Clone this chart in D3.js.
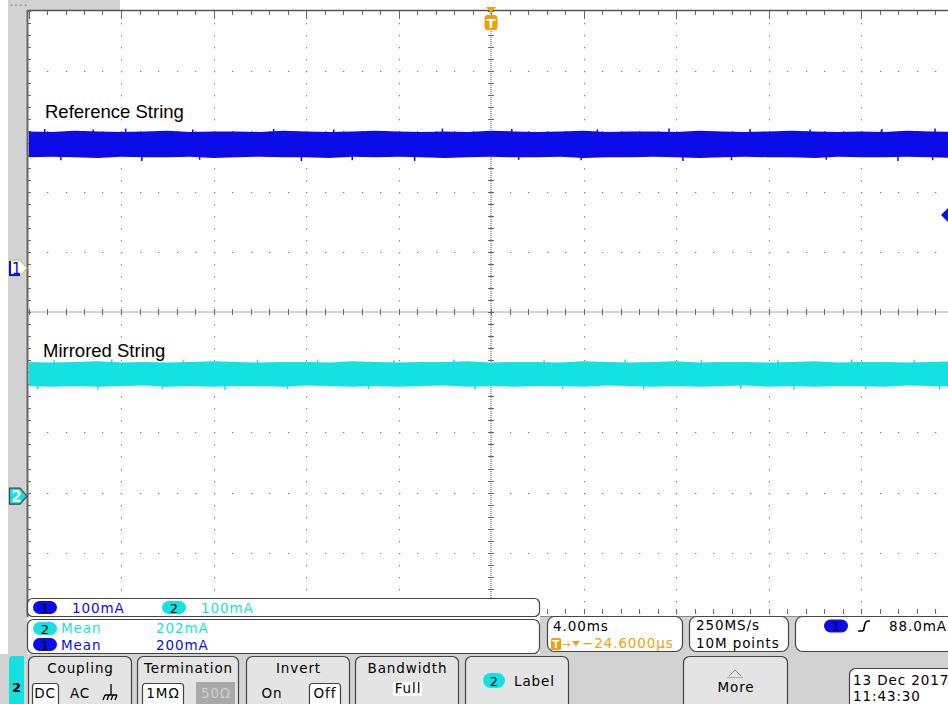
<!DOCTYPE html>
<html><head><meta charset="utf-8">
<script src="https://cdn.jsdelivr.net/npm/d3@7"></script>
<style>html,body{margin:0;padding:0;background:#fff;overflow:hidden}</style>
</head><body><svg id="c" width="948" height="704"></svg>
<script>
// ---------- DATA ----------
const sampleTimes = [-20,-19,-18,-17,-16,-15,-14,-13,-12,-11,-10,-9,-8,-7,-6,-5,-4,-3,-2,-1,0,1,2,3,4,5,6,7,8,9,10,11,12,13,14,15,16,17,18,19,20]; // ms
const ch1Max = [227,226,228,227,226,227,228,226,227,227,226,228,227,226,227,228,227,226,227,226,228,227,226,227,228,226,227,227,226,228,227,226,227,228,227,226,227,226,228,227,226]; // mA
const ch1Min = [184,185,184,183,185,184,184,185,183,184,185,184,184,183,185,184,185,184,183,184,185,184,184,185,183,184,184,185,184,183,184,185,184,184,183,185,184,184,185,184,183];
const ch2Max = [223,222,223,224,222,223,222,223,224,223,222,223,223,222,224,223,222,223,223,224,222,223,223,222,224,223,222,223,224,222,223,223,222,223,224,222,223,223,222,223,224];
const ch2Min = [183,182,183,182,183,184,182,183,182,183,183,182,184,183,182,183,182,183,184,182,183,182,183,183,182,184,183,182,183,182,183,184,182,183,182,183,183,182,184,183,182];
const ch1UpTimes = [-19.3,-17.2,-15.8,-12.9,-9.4,-6.8,-2.1,0.9,4.6,7.7,11.2,13.8,16.9,19.2];
const ch1UpVals  = [231,230,232,230,231,230,232,231,230,232,231,230,231,232];
const ch1DnTimes = [-18.6,-15.1,-12.6,-8.2,-6.0,-3.3,1.2,3.9,8.3,10.4,14.5,17.6,19.1];
const ch1DnVals  = [179,178,180,178,179,178,180,179,178,179,180,178,179];
const ch2UpTimes = [-18.9,-16.4,-13.3,-10.1,-7.5,-4.2,-1.6,2.3,5.8,9.1,12.4,15.6,18.3];
const ch2UpVals  = [226,227,226,226,227,226,227,226,227,226,226,227,226];
const ch2DnTimes = [-19.6,-17.0,-14.2,-11.5,-8.8,-5.3,-0.7,3.1,6.6,10.8,13.1,16.2,19.4];
const ch2DnVals  = [178,177,178,177,178,178,177,178,177,178,177,178,177];
const traceNames = ["Reference String", "Mirrored String"];
const chScale = [100, 100];              // mA/div
const chPosition = [0.73, -3.06];        // ground marker, divisions
const chMeans = ["202mA", "200mA"];
const scaleLabels = ["100mA", "100mA"];
const timeReadout = ["4.00ms", "−24.6000µs"];
const acqReadout = ["250MS/s", "10M points"];
const trigReadout = "88.0mA";
const trigLevel = 88; // mA on ch1
const dateLines = ["13 Dec  2017", "11:43:30"];

// ---------- LAYOUT ----------
const svg = d3.select("#c");
const W = 948, H = 704;
const blue = "#0c0ce8", cyan = "#14e2e2", orange = "#f2a007";
const grayBg = "#d2d2d2", btnFill = "#e4e4e4";
const uiFont = "'DejaVu Sans', Verdana, sans-serif";

const x = d3.scaleLinear().domain([-20, 20]).range([28.5, 953.5]);
const yDiv = d3.scaleLinear().domain([-5, 5]).range([613, 11]);
const yCh = chPosition.map((p, i) => d3.scaleLinear()
  .domain([(-5 - p) * chScale[i], (5 - p) * chScale[i]]).range([613, 11]));

svg.append("rect").attr("width", W).attr("height", H).attr("fill", "#fff");
// top / left gray strips
svg.append("rect").attr("x", 8).attr("y", 0).attr("width", 112).attr("height", 10).attr("fill", grayBg);
svg.append("rect").attr("x", 8).attr("y", 0).attr("width", 19.5).attr("height", 660).attr("fill", grayBg);
svg.append("text").attr("x", 10).attr("y", 7).attr("font-size", 7).attr("font-family", uiFont).attr("fill", "#333").text("- - - -");

const plot = svg.append("g");
const dotColor = "#7c7c7c";
const majorT = d3.range(-20, 20.001, 4);
const minorT = d3.range(-20, 20.001, 0.8);
const minorD = d3.range(-5, 5.001, 0.2);
const majorD = d3.range(-5, 5.001, 1);

majorT.forEach(t => {
  if (Math.abs(t) < 1e-9 || t === -20) return;
  minorD.forEach(d => plot.append("rect").attr("x", Math.round(x(t))).attr("y", Math.round(yDiv(d)))
    .attr("width", 1).attr("height", 1.3).attr("fill", dotColor));
});
majorD.forEach(d => {
  if (Math.abs(d) < 1e-9 || d === 5) return;
  minorT.forEach(t => plot.append("rect").attr("x", Math.round(x(t))).attr("y", Math.round(yDiv(d)))
    .attr("width", 1.3).attr("height", 1).attr("fill", dotColor));
});
plot.append("line").attr("x1", x(0)).attr("x2", x(0)).attr("y1", yDiv(5)).attr("y2", yDiv(-5))
  .attr("stroke", "#555").attr("stroke-width", 1).attr("stroke-dasharray", "1,1");
plot.append("line").attr("x1", x(-20)).attr("x2", x(20)).attr("y1", yDiv(0)).attr("y2", yDiv(0))
  .attr("stroke", "#555").attr("stroke-width", 1).attr("stroke-dasharray", "1,1");
minorD.forEach(d => plot.append("line").attr("x1", x(0) - 3).attr("x2", x(0) + 3)
  .attr("y1", Math.round(yDiv(d)) + 0.5).attr("y2", Math.round(yDiv(d)) + 0.5).attr("stroke", "#666"));
minorT.forEach(t => plot.append("line").attr("y1", yDiv(0) - 3).attr("y2", yDiv(0) + 3)
  .attr("x1", Math.round(x(t)) + 0.5).attr("x2", Math.round(x(t)) + 0.5).attr("stroke", "#666"));
minorD.forEach(d => plot.append("line").attr("x1", 28).attr("x2", 31)
  .attr("y1", Math.round(yDiv(d)) + 0.5).attr("y2", Math.round(yDiv(d)) + 0.5).attr("stroke", "#666"));
minorT.forEach(t => {
  const xx = Math.round(x(t)) + 0.5;
  plot.append("line").attr("x1", xx).attr("x2", xx).attr("y1", 11).attr("y2", 15).attr("stroke", "#666");
  plot.append("line").attr("x1", xx).attr("x2", xx).attr("y1", 609).attr("y2", 613).attr("stroke", "#666");
});
majorT.forEach(t => {
  const xx = Math.round(x(t)) + 0.5;
  plot.append("line").attr("x1", xx).attr("x2", xx).attr("y1", 11).attr("y2", 19).attr("stroke", "#666");
});
plot.append("line").attr("x1", 27).attr("x2", W).attr("y1", 10.5).attr("y2", 10.5).attr("stroke", "#555").attr("stroke-width", 1.5);
plot.append("line").attr("x1", 27.5).attr("x2", 27.5).attr("y1", 10).attr("y2", 617).attr("stroke", "#666").attr("stroke-width", 2);

// ---------- TRACES ----------
svg.append("clipPath").attr("id", "clip").append("rect").attr("x", 28.5).attr("y", 11).attr("width", 930).attr("height", 602);
const traces = svg.append("g").attr("clip-path", "url(#clip)");
const bands = [[ch1Min, ch1Max], [ch2Min, ch2Max]];
const colors = [blue, cyan];
bands.forEach(([mn, mx], i) => {
  const data = sampleTimes.map((t, k) => ({t, lo: mn[k], hi: mx[k]}));
  traces.append("path").datum(data)
    .attr("d", d3.area().x(d => x(d.t)).y0(d => yCh[i](d.lo)).y1(d => yCh[i](d.hi)).curve(d3.curveLinear))
    .attr("fill", colors[i]);
});
const spikes = [
  [ch1UpTimes, ch1UpVals, ch1DnTimes, ch1DnVals],
  [ch2UpTimes, ch2UpVals, ch2DnTimes, ch2DnVals]];
spikes.forEach(([ut, uv, dt, dv], i) => {
  const mid = (d3.mean(bands[i][0]) + d3.mean(bands[i][1])) / 2;
  ut.forEach((t, k) => traces.append("line").attr("x1", x(t)).attr("x2", x(t))
    .attr("y1", yCh[i](mid)).attr("y2", yCh[i](uv[k])).attr("stroke", colors[i]).attr("stroke-width", 1.5));
  dt.forEach((t, k) => traces.append("line").attr("x1", x(t)).attr("x2", x(t))
    .attr("y1", yCh[i](mid)).attr("y2", yCh[i](dv[k])).attr("stroke", colors[i]).attr("stroke-width", 1.5));
});

// trace labels
svg.append("text").attr("x", 45).attr("y", 118).attr("font-family", "'Liberation Sans', Arial, sans-serif")
  .attr("font-size", 18.5).attr("fill", "#000").text(traceNames[0]);
svg.append("text").attr("x", 43).attr("y", 357).attr("font-family", "'Liberation Sans', Arial, sans-serif")
  .attr("font-size", 18.5).attr("fill", "#000").text(traceNames[1]);

// trigger position marker (top)
const tx = x(0);
svg.append("path").attr("d", `M${tx-5},7 L${tx+5},7 L${tx},13 Z`).attr("fill", orange);
svg.append("rect").attr("x", tx - 6.5).attr("y", 15).attr("width", 13).attr("height", 15).attr("rx", 3).attr("fill", orange);
svg.append("text").attr("x", tx).attr("y", 28).attr("text-anchor", "middle").attr("font-family", uiFont)
  .attr("font-size", 13).attr("font-weight", "bold").attr("fill", "#fff").text("T");
// trigger level marker (right)
const ty = yCh[0](trigLevel);
svg.append("path").attr("d", `M${W-7},${ty} L${W},${ty-7} L${W},${ty+7} Z`).attr("fill", blue);

// channel ground markers
function chMarker(i, filled) {
  const yy = yCh[i](0);
  const g = svg.append("g");
  g.append("path").attr("d", `M9.5,${yy-8} L20,${yy-8} L27,${yy} L20,${yy+8} L9.5,${yy+8} Z`)
    .attr("fill", filled ? colors[i] : "#fff").attr("stroke", filled ? "#444" : "#c9c86a").attr("stroke-width", 1.2);
  if (!filled) {
    g.append("path").attr("d", `M10,${yy-7} L10,${yy+7} L20,${yy+7}`).attr("fill", "none").attr("stroke", blue).attr("stroke-width", 2);
  }
  g.append("text").attr("x", 16.5).attr("y", yy + 5.5).attr("text-anchor", "middle").attr("font-family", uiFont)
    .attr("font-size", 15).attr("font-weight", filled ? "bold" : "normal").attr("fill", filled ? "#fff" : blue).text(i + 1);
}
chMarker(0, false);
chMarker(1, true);

// ---------- BOTTOM PANEL ----------
svg.append("rect").attr("x", 540).attr("y", 616).attr("width", W - 540).attr("height", 40).attr("fill", grayBg);
svg.append("rect").attr("x", 0).attr("y", 654).attr("width", W).attr("height", 50).attr("fill", grayBg);
svg.append("line").attr("x1", 540).attr("x2", W).attr("y1", 616.5).attr("y2", 616.5).attr("stroke", "#888");

function box(x0, y0, w, h, fill, r = 6) {
  return svg.append("rect").attr("x", x0 + 0.5).attr("y", y0 + 0.5).attr("width", w).attr("height", h)
    .attr("rx", r).attr("fill", fill).attr("stroke", "#444").attr("stroke-width", 1.2);
}
function txt(x0, y0, s, color = "#000", size = 13, anchor = "start", extra = {}) {
  const t = svg.append("text").attr("x", x0).attr("y", y0).attr("font-family", uiFont).attr("font-size", size)
    .attr("fill", color).attr("text-anchor", anchor).attr("letter-spacing", extra.ls ?? 0.9).text(s);
  if (extra.weight) t.attr("font-weight", extra.weight);
  return t;
}
function pill(cx, cy, label, fill, w = 24, h = 13) {
  svg.append("rect").attr("x", cx - w / 2).attr("y", cy - h / 2).attr("width", w).attr("height", h).attr("rx", h / 2).attr("fill", fill);
  txt(cx, cy + 5, label, "#000", 13, "middle", {ls: 0});
}

// row 1
box(27, 598, 512, 18, "#fff", 5);
pill(45, 607.5, "1", blue);
txt(72, 613, scaleLabels[0], blue, 13.5);
pill(174, 607.5, "2", cyan);
txt(201, 613, scaleLabels[1], cyan, 13.5);

// row 2
box(27, 619, 512, 34, "#fff", 6);
pill(45, 628.5, "2", cyan);
txt(61, 633, "Mean", cyan, 13.5);
txt(156, 633, chMeans[0], cyan, 13.5);
pill(45, 644.5, "1", blue);
txt(61, 650, "Mean", blue, 13.5);
txt(156, 650, chMeans[1], blue, 13.5);

// time readout
box(547, 616, 135, 35, "#fff", 7);
txt(553, 631, timeReadout[0], "#000", 13.5);
svg.append("rect").attr("x", 551).attr("y", 638).attr("width", 10).attr("height", 12).attr("rx", 1.5).attr("fill", orange);
txt(556, 648, "T", "#fff", 10, "middle", {ls: 0, weight: "bold"});
txt(562, 648, "→", orange, 10, "start", {ls: 0});
svg.append("path").attr("d", "M572,641 L580,641 L576,646 Z").attr("fill", orange);
txt(582, 648, timeReadout[1], orange, 13.5);

// acquisition
box(689, 616, 99, 35, "#fff", 7);
txt(696, 630, acqReadout[0], "#000", 13.5);
txt(696, 648, acqReadout[1], "#000", 13.5);

// trigger
box(795, 616, 170, 35, "#fff", 7);
pill(836, 626, "1", blue);
svg.append("path").attr("d", "M858,631 L862,631 Q864,631 864,628 L865,624 Q866,621 868,621 L870,621")
  .attr("fill", "none").attr("stroke", "#000").attr("stroke-width", 1.6);
txt(889, 631, trigReadout, "#000", 13.5);

// row 3
svg.append("path").attr("d", "M9,704 L9,660 Q9,656 13,656 L24,656 L24,704 Z").attr("fill", cyan);
txt(16.5, 692, "2", "#000", 13, "middle", {ls: 0, weight: "bold"});

const buttons = [
  {x: 28, w: 103, title: "Coupling"},
  {x: 137, w: 101, title: "Termination"},
  {x: 246, w: 103, title: "Invert"},
  {x: 355, w: 103, title: "Bandwidth"},
  {x: 465, w: 103, title: ""},
  {x: 683, w: 104, title: ""}
];
buttons.forEach(b => {
  box(b.x, 656, b.w, 60, btnFill, 6);
  if (b.title) txt(b.x + b.w / 2 + 1, 673, b.title, "#000", 13.5, "middle");
});
box(32, 683, 26, 30, "#fff", 3);
txt(45, 698, "DC", "#000", 13.5, "middle");
txt(80, 698, "AC", "#000", 13.5, "middle");
svg.append("path").attr("d", "M111,684 L111,695 M105,695 L117,695 M105,695 L103,700 M109,695 L107,700 M113,695 L111,700 M117,695 L115,700")
  .attr("stroke", "#000").attr("stroke-width", 1.3).attr("fill", "none");
box(142, 683, 41, 30, "#fff", 3);
txt(163, 698, "1MΩ", "#000", 13.5, "middle");
svg.append("rect").attr("x", 196).attr("y", 682).attr("width", 39).attr("height", 30).attr("fill", "#a9a9a9");
txt(216, 698, "50Ω", "#cfcfcf", 13.5, "middle");
txt(272, 698, "On", "#000", 13.5, "middle");
box(309, 683, 31, 30, "#fff", 3);
txt(325, 698, "Off", "#000", 13.5, "middle");
svg.append("rect").attr("x", 393).attr("y", 682).attr("width", 29).attr("height", 14).attr("fill", "#fff");
txt(408, 693, "Full", "#000", 13.5, "middle");
pill(494, 680.5, "2", cyan, 22, 15);
txt(514, 686, "Label", "#000", 13.5, "start");
svg.append("path").attr("d", "M729,676 L735,670 L741,676").attr("fill", "none").attr("stroke", "#888").attr("stroke-width", 1);
svg.append("line").attr("x1", 727).attr("x2", 743).attr("y1", 677.5).attr("y2", 677.5).attr("stroke", "#aaa");
txt(736, 692, "More", "#000", 13.5, "middle");
box(849, 668, 110, 45, "#fff", 6);
txt(853, 685, dateLines[0], "#000", 13.5, "start");
txt(853, 701, dateLines[1], "#000", 13.5, "start");
</script></body></html>
